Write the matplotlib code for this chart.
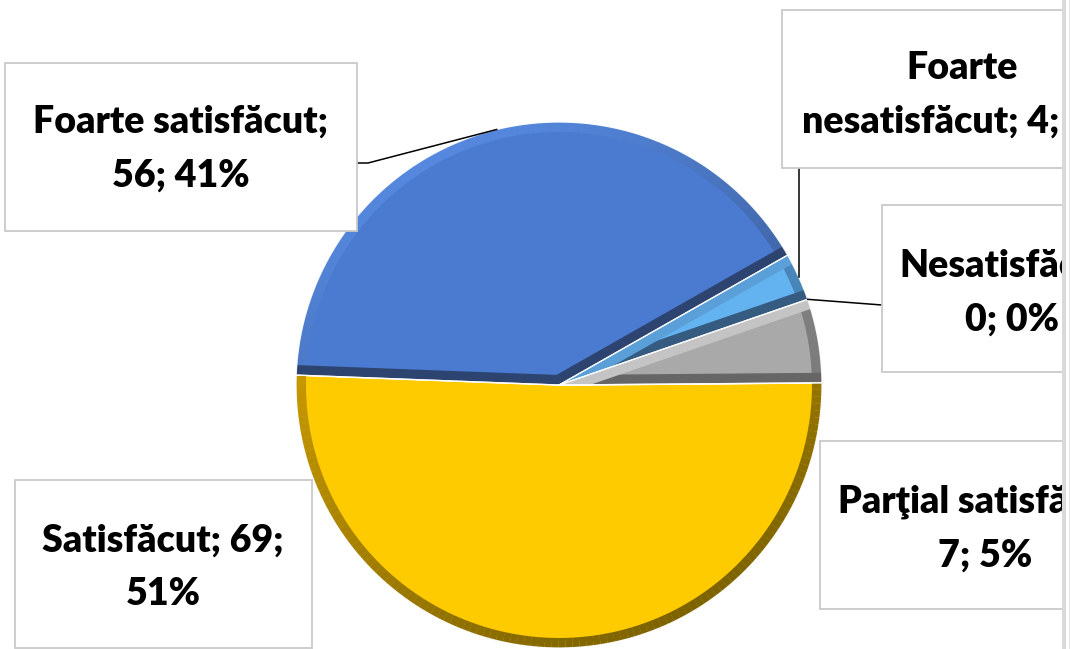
import numpy as np
import matplotlib
matplotlib.use("Agg")
import matplotlib.pyplot as plt
from matplotlib.patches import Rectangle
from matplotlib.collections import LineCollection
from matplotlib.colors import to_rgb

# ---------------- data ----------------
categories = ["Foarte satisfăcut", "Satisfăcut", "Parţial satisfăcut",
              "Nesatisfăcut", "Foarte nesatisfăcut"]
counts = [56, 69, 7, 0, 4]
# where each label text breaks into two lines
label_lines = [
    ("Foarte satisfăcut;", "{n}; {p}%"),
    ("Satisfăcut; {n};", "{p}%"),
    ("Parţial satisfăcut;", "{n}; {p}%"),
    ("Nesatisfăcut;", "{n}; {p}%"),
    ("Foarte", "nesatisfăcut; {n}; {p}%"),
]

# ---------------- style ----------------
face = ["#4a7bd1", "#fecb00", "#a9a9a9", "#5f9fe0", "#63b3f0"]
rim_light = ["#5588de", "#dca800", "#8c8c8c", "#5f9fe0", "#4a86ba"]
rim_dark = ["#2e4677", "#7d6300", "#666666", "#3a6a96", "#3a6a96"]
edge1 = ["#2d4470", None, "#666666", None, "#355b80"]   # theta1 edge
edge2 = ["#2d4470", None, "#c4c4c4", None, "#5a9fd8"]   # theta2 edge

W, H = 1071, 649
AW = 1062
fig = plt.figure(figsize=(W / 100, H / 100), dpi=100)
fig.patch.set_facecolor("white")
ax = fig.add_axes([0, 0, AW / W, 1])

cx, cy, R = 559, H - 385, 263
BAND = 10  # px
band_lw = 2 * BAND * 0.72

wedges, _ = ax.pie(counts, colors=face, startangle=29.6, counterclock=True,
                   radius=R, center=(cx, cy),
                   wedgeprops=dict(linewidth=1.2, edgecolor="white"))
ax.set_xlim(0, AW)
ax.set_ylim(0, H)
ax.set_aspect("equal")
ax.axis("off")


def mix(c1, c2, t):
    a, b = np.array(to_rgb(c1)), np.array(to_rgb(c2))
    return tuple(a * (1 - t) + b * t)


for i, w in enumerate(wedges):
    if counts[i] == 0:
        continue
    t1, t2 = w.theta1, w.theta2
    ang = np.linspace(t1, t2, 120)
    rad = np.deg2rad(ang)
    xs = cx + R * np.cos(rad)
    ys = cy + R * np.sin(rad)
    pts = np.column_stack([xs, ys])
    segs = np.stack([pts[:-1], pts[1:]], axis=1)
    mids = np.deg2rad((ang[:-1] + ang[1:]) / 2)
    shade = (1 + np.cos(mids - np.deg2rad(120))) / 2
    cols = [mix(rim_dark[i], rim_light[i], s) for s in shade]
    lc = LineCollection(segs, colors=cols, linewidths=band_lw,
                        capstyle="butt", zorder=3)
    ax.add_collection(lc)
    lc.set_clip_path(w)
    for th, col in ((t1, edge1[i]), (t2, edge2[i])):
        if col is None:
            continue
        r = np.deg2rad(th)
        ln, = ax.plot([cx, cx + R * np.cos(r)], [cy, cy + R * np.sin(r)],
                      color=col, lw=band_lw, solid_capstyle="butt", zorder=4)
        ln.set_clip_path(w)
    # white separation outline on top
    ax.plot(np.r_[cx, xs, cx], np.r_[cy, ys, cy], color="white", lw=0.9,
            zorder=5, alpha=0.9)

# ---------------- labels ----------------
total = sum(counts)
pcts = [round(100 * c / total) for c in counts]

# layout (pixel coords, y measured from top)
boxes = [(5, 63, 357, 231), (15, 480, 312, 648), (820, 441, 1150, 609),
         (882, 205, 1150, 372), (782, 10, 1150, 168)]
text_center = [(181, 148.5), (163, 567.5), (985, 529), (1012, 292.5),
               (962, 95)]

for i in range(len(categories)):
    x0, y0, x1, y1 = boxes[i]
    ax.add_patch(Rectangle((x0, H - y1), x1 - x0, y1 - y0, facecolor="white",
                           edgecolor="#c9c9c9", lw=1.3, zorder=10))
    l1, l2 = label_lines[i]
    txt = l1.format(n=counts[i], p=pcts[i]) + "\n" + l2.format(n=counts[i], p=pcts[i])
    tx, ty = text_center[i]
    ax.text(tx, H - ty, txt, ha="center", va="center", multialignment="center",
            fontsize=27, fontweight="heavy", family=["Lato", "DejaVu Sans"],
            linespacing=1.7, color="black", zorder=11, clip_on=True)

# leader lines from the pie rim (mid angle of each slice)
def rim_point(i):
    w = wedges[i]
    m = np.deg2rad((w.theta1 + w.theta2) / 2)
    return cx + R * np.cos(m), cy + R * np.sin(m)

px, py = rim_point(0)
ax.plot([px, 368, 357], [py, H - 163, H - 163], color="black", lw=1.1, zorder=9)
px, py = rim_point(4)
ax.plot([px, px], [py, H - 168], color="black", lw=1.1, zorder=9)
px, py = rim_point(3)
ax.plot([px, 882], [py, H - 305], color="black", lw=1.1, zorder=9)

# right window border strip
fig.add_artist(Rectangle((1062 / W, 0), 4 / W, 1, transform=fig.transFigure,
                         facecolor="#d9d9d9", edgecolor="none"))
fig.add_artist(Rectangle((1069 / W, 0), 1.2 / W, 1, transform=fig.transFigure,
                         facecolor="#e4e4e4", edgecolor="none"))

fig.savefig("out.png", dpi=100, facecolor="white")
